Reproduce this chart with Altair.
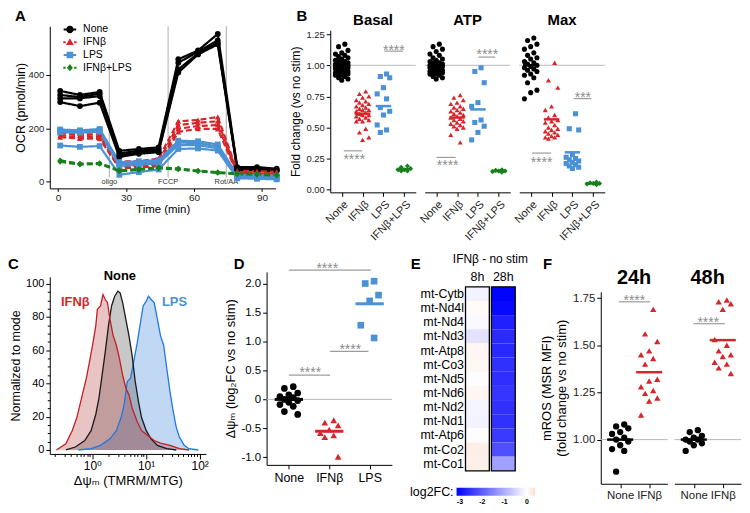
import altair as alt
import pandas as pd

FONT = "Liberation Sans, Arial, DejaVu Sans, sans-serif"

GROUPS = ["None", "IFNβ", "LPS", "IFNβ+LPS"]
COLORS = ["#000000", "#d7262b", "#4a92d5", "#17801a"]
SHAPES = ["circle", "triangle-up", "square", "diamond"]
LEG_PATHS = [
    "M-1.7,-0.28H1.7V0.28H-1.7Z M-1,0A1,1 0 1,1 1,0A1,1 0 1,1 -1,0Z",
    "M-1.8,-0.28H-1.15V0.28H-1.8Z M1.15,-0.28H1.8V0.28H1.15Z M0,-1.1L1.05,0.75L-1.05,0.75Z",
    "M-1.7,-0.28H1.7V0.28H-1.7Z M-0.9,-0.9H0.9V0.9H-0.9Z",
    "M-1.8,-0.28H-1.15V0.28H-1.8Z M1.15,-0.28H1.8V0.28H1.15Z M0,-1L0.8,0L0,1L-0.8,0Z",
]
STAR = "#8c8c8c"
SIGLINE = "#9c9c9c"
REFLINE = "#b8b8b8"

# ---------------- Panel A : OCR time course ----------------
times = [1.0, 9.7, 18.4, 27.1, 35.7, 44.4, 53.1, 61.8, 70.5, 79.1, 87.8, 96.5]
ocr_none = [
    [340, 325, 336, 115, 122, 128, 459, 492, 554, 54, 54, 48],
    [325, 317, 330, 105, 116, 122, 446, 487, 530, 50, 49, 44],
    [312, 312, 321, 98, 110, 116, 421, 481, 521, 46, 45, 41],
    [298, 283, 296, 92, 104, 110, 409, 477, 515, 44, 41, 39],
]
ocr_ifn = [
    [190, 180, 186, 75, 76, 86, 226, 231, 242, 40, 38, 36],
    [182, 173, 177, 63, 66, 75, 212, 220, 226, 35, 34, 32],
    [173, 166, 168, 55, 58, 65, 198, 208, 212, 32, 30, 29],
    [166, 161, 160, 50, 52, 58, 186, 198, 197, 28, 27, 26],
]
ocr_lps = [
    [195, 192, 197, 72, 76, 80, 153, 151, 139, 25, 22, 20],
    [190, 188, 193, 66, 70, 75, 146, 144, 132, 20, 18, 15],
    [185, 183, 187, 58, 63, 68, 137, 136, 125, 15, 14, 12],
    [135, 130, 133, 25, 35, 45, 122, 124, 116, 12, 10, 8],
]
ocr_combo = [
    [79, 67, 69, 42, 47, 53, 49, 41, 35, 30, 28, 25],
    [74, 63, 66, 38, 43, 49, 45, 38, 32, 27, 25, 22],
]
inj_names = ["oligo", "FCCP", "Rot/AA"]
inj_times = [22.7, 48.6, 74.3]
inj_bottom = [15, 15, 15]
inj_top = [420, 583, 583]
inj_label_y = [-2, -2, -2]

# ---------------- Panel B : fold change ----------------
metrics = ["Basal", "ATP", "Max"]
basal_none = [1.17, 1.15, 1.12, 1.10, 1.09, 1.08, 1.07, 1.06, 1.05, 1.04, 1.03, 1.03, 1.02, 1.02,
              1.01, 1.01, 1.00, 1.00, 1.00, 0.99, 0.99, 0.98, 0.98, 0.97, 0.97, 0.96, 0.96, 0.95,
              0.95, 0.94, 0.94, 0.93, 0.93, 0.92, 0.92, 0.91, 0.90, 0.89, 0.88]
basal_ifn = [0.79, 0.77, 0.75, 0.74, 0.72, 0.71, 0.70, 0.69, 0.68, 0.67, 0.66, 0.65, 0.64, 0.64,
             0.63, 0.62, 0.61, 0.60, 0.60, 0.59, 0.58, 0.57, 0.56, 0.55, 0.55, 0.49, 0.46, 0.42, 0.40]
basal_lps = [0.93, 0.91, 0.90, 0.82, 0.77, 0.73, 0.66, 0.63, 0.60, 0.52, 0.48, 0.46]
basal_combo = [0.19, 0.18, 0.17, 0.16, 0.16, 0.15, 0.15]
atp_none = [1.17, 1.15, 1.13, 1.11, 1.09, 1.08, 1.06, 1.05, 1.04, 1.03, 1.02, 1.02, 1.01, 1.01,
            1.00, 1.00, 0.99, 0.99, 0.98, 0.98, 0.97, 0.97, 0.96, 0.96, 0.95, 0.95, 0.94, 0.94,
            0.93, 0.93, 0.92, 0.91, 0.90, 0.89]
atp_ifn = [0.76, 0.74, 0.72, 0.70, 0.69, 0.67, 0.66, 0.65, 0.64, 0.63, 0.62, 0.61, 0.60, 0.59,
           0.58, 0.57, 0.56, 0.55, 0.54, 0.53, 0.52, 0.51, 0.50, 0.49, 0.44, 0.38]
atp_lps = [0.98, 0.95, 0.86, 0.70, 0.67, 0.56, 0.54, 0.51, 0.46, 0.40]
atp_combo = [0.16, 0.155, 0.15, 0.15, 0.145, 0.14]
max_none = [1.22, 1.20, 1.17, 1.15, 1.13, 1.10, 1.08, 1.06, 1.05, 1.03, 1.02, 1.01, 1.00, 0.99,
            0.98, 0.97, 0.96, 0.95, 0.93, 0.92, 0.90, 0.86, 0.80, 0.78, 0.73]
max_ifn = [1.02, 0.88, 0.82, 0.67, 0.64, 0.60, 0.58, 0.56, 0.55, 0.54, 0.52, 0.50, 0.49, 0.48,
           0.47, 0.46, 0.45, 0.44, 0.43, 0.42, 0.42, 0.41]
max_lps = [0.61, 0.49, 0.48, 0.28, 0.26, 0.25, 0.24, 0.23, 0.22, 0.21, 0.20, 0.19, 0.18, 0.17]
max_combo = [0.06, 0.055, 0.05, 0.05, 0.045, 0.04]
means_basal = [1.00, 0.61, 0.672, 0.165]
means_atp = [1.00, 0.58, 0.645, 0.15]
means_max = [1.00, 0.565, 0.30, 0.05]
sigB_metric = ["Basal", "Basal", "ATP", "ATP", "Max", "Max"]
sigB_x1 = [0.10, 2.04, 0.02, 2.02, 0.07, 2.06]
sigB_x2 = [0.98, 2.94, 0.93, 2.83, 0.98, 2.91]
sigB_y = [0.312, 1.114, 0.259, 1.066, 0.294, 0.732]
sigB_tx = [0.60, 2.50, 0.55, 2.45, 0.52, 2.50]
sigB_ty = [0.27, 1.148, 0.219, 1.114, 0.246, 0.772]
sigB_lab = ["****", "****", "****", "****", "****", "***"]

# ---------------- Panel C : TMRM/MTG histograms ----------------
c_ifn_x = [0.214, 0.321, 0.421, 0.515, 0.590, 0.675, 0.773, 0.885, 1.01, 1.16, 1.24, 1.42, 1.58,
           1.74, 1.92, 2.13, 2.44, 2.80, 3.20, 3.67, 4.20, 4.81, 5.50, 6.74, 8.26, 10.8, 14.2,
           18.6, 27.9, 42.0, 63.0]
c_ifn_y = [0, 3.7, 11.6, 19.5, 27.4, 35.3, 43.2, 53, 63, 74.8, 84.6, 86.6, 93.5, 90.5, 88.6, 78.7,
           68.8, 63, 55, 45, 37.3, 33.3, 25.4, 17.6, 11.6, 8.7, 5.7, 4.1, 2.8, 0.8, 0]
c_none_x = [0.321, 0.482, 0.723, 0.947, 1.16, 1.33, 1.52, 1.74, 2.00, 2.28, 2.61, 2.99, 3.29, 3.67,
            4.20, 4.81, 5.50, 6.30, 7.21, 8.26, 10.1, 12.4, 16.3, 24.4, 36.6]
c_none_y = [0, 1.8, 5.7, 11.6, 21.5, 31.4, 45, 59, 74.8, 86.6, 92.5, 95.5, 94.5, 88.6, 78.7, 68.8,
            57, 41.2, 29.4, 19.5, 11.6, 6.7, 2.8, 0.8, 0]
c_lps_x = [0.551, 0.947, 1.42, 2.13, 2.80, 3.43, 3.92, 4.49, 5.14, 5.89, 6.74, 7.72, 8.84, 10.1,
           11.1, 12.4, 14.2, 16.3, 18.6, 21.3, 24.4, 27.9, 32.0, 36.6, 42.0, 51.4, 63.0, 94.5]
c_lps_y = [0, 0.8, 2.8, 6.7, 11.6, 19.5, 27.4, 41.2, 43.2, 53, 63, 74.8, 86.6, 89.5, 92.5, 90.5,
           88.6, 78.7, 68.8, 63, 49, 35.3, 23.5, 13.6, 7.7, 2.8, 0.8, 0]
c_lab_text = ["None", "IFNβ", "LPS"]
c_lab_x = [3.25, 0.48, 34.0]
c_lab_y = [104.5, 89.0, 89.0]
c_minor_x = [0.2, 0.3, 0.4, 0.5, 0.6, 0.7, 0.8, 0.9, 2, 3, 4, 5, 6, 7, 8, 9,
             20, 30, 40, 50, 60, 70, 80, 90]
c_minor_y = [5, 10, 15, 25, 30, 35, 45, 50, 55, 65, 70, 75, 85, 90, 95]

# ---------------- Panel D : membrane potential ----------------
d_none = [0.22, 0.19, 0.11, 0.08, 0.05, 0.03, 0.0, -0.02, -0.05, -0.09, -0.12, -0.21, -0.26]
d_ifn = [-0.36, -0.40, -0.45, -0.52, -0.58, -0.62, -0.65, -0.99]
d_lps = [2.04, 2.00, 1.80, 1.70, 1.28, 1.06]
d_means = [0.0, -0.55, 1.65]
sigD_x1 = [0.0, 1.02, 0.0]
sigD_x2 = [2.03, 1.97, 1.02]
sigD_y = [2.23, 0.83, 0.42]
sigD_tx = [0.95, 1.52, 0.53]
sigD_ty = [2.32, 0.92, 0.52]

# ---------------- Panel E : heatmap ----------------
genes = ["mt-Cytb", "mt-Nd4l", "mt-Nd4", "mt-Nd3", "mt-Atp8", "mt-Co3", "mt-Nd5", "mt-Nd6",
         "mt-Nd2", "mt-Nd1", "mt-Atp6", "mt-Co2", "mt-Co1"]
fc_8h = [-0.15, 0.05, -0.08, -0.35, 0.10, 0.08, -0.02, 0.10, -0.12, -0.15, -0.03, 0.20, 0.18]
fc_28h = [-3.12, -3.05, -2.76, -2.62, -2.66, -2.55, -2.58, -2.50, -2.55, -2.55, -2.43, -2.17, -1.17]

# ---------------- Panel F : mROS ----------------
f_times = ["24h", "48h"]
f_none_24 = [1.08, 1.07, 1.06, 1.04, 1.03, 1.01, 1.00, 0.99, 0.97, 0.95, 0.94, 0.83]
f_ifn_24 = [1.69, 1.56, 1.52, 1.47, 1.45, 1.43, 1.40, 1.32, 1.31, 1.28, 1.26, 1.245, 1.22, 1.205, 1.13]
f_none_48 = [1.05, 1.04, 1.02, 1.01, 1.00, 1.00, 0.99, 0.98, 0.97, 0.94]
f_ifn_48 = [1.74, 1.73, 1.72, 1.69, 1.53, 1.50, 1.47, 1.45, 1.44, 1.41, 1.40, 1.38, 1.35]
f_means_24 = [1.0, 1.357]
f_means_48 = [1.0, 1.527]
sigF_x1 = [-0.04, -0.01]
sigF_x2 = [1.03, 1.07]
sigF_y = [1.73, 1.614]
sigF_tx = [0.49, 0.50]
sigF_ty = [1.755, 1.64]


def jitter(amp):
    return f"datum.xi + ((((datum.rk * 3) % 5) - 2) / 2) * {amp}"


def text_at(txt, x, y, size=15, weight="bold", align="left", baseline="top", color="black"):
    return alt.Chart(pd.DataFrame({"t": [txt]})).mark_text(
        fontSize=size, fontWeight=weight, align=align, baseline=baseline, color=color, font=FONT
    ).encode(text="t:N", x=alt.value(x), y=alt.value(y))


def letter(txt, x, y):
    return text_at(txt, x, y)


def gcolor(dom, rng):
    return alt.Color("group:N", scale=alt.Scale(domain=dom, range=rng), legend=None)


def gshape(dom, rng):
    return alt.Shape("group:N", scale=alt.Scale(domain=dom, range=rng), legend=None)


# ======================= A =======================
recA = []
for g, reps in zip(GROUPS, [ocr_none, ocr_ifn, ocr_lps, ocr_combo]):
    for r, vals in enumerate(reps):
        for t, v in zip(times, vals):
            recA.append({"group": g, "rep": f"{g}_{r}", "time": t, "ocr": v})
dfA = pd.DataFrame(recA)
dfInj = pd.DataFrame({"time": inj_times, "ocr": inj_bottom, "top": inj_top, "name": inj_names})
dfInjLab = pd.DataFrame({"time": inj_times, "ocr": inj_label_y, "name": inj_names})

xA_scale = alt.Scale(domain=[-3.6, 96], nice=False, zero=False)
yA_scale = alt.Scale(domain=[-26, 583], range=[180, 17], nice=False, zero=False)
xA_axis = alt.Axis(values=[0, 30, 60, 90], title="Time (min)", titleFontSize=11.5, labelFontSize=10,
                   labelPadding=1, titlePadding=1, tickSize=3, labelFlush=False)
yA_axis = alt.Axis(values=[0, 200, 400], title="OCR (pmol/min)", titleFontSize=12.5, labelFontSize=9.5,
                   labelPadding=2, titlePadding=1, tickSize=4)
xA = alt.X("time:Q", scale=xA_scale, axis=xA_axis)
yA = alt.Y("ocr:Q", scale=yA_scale, axis=yA_axis)

injA = alt.Chart(dfInj).mark_rule(color="#bdbdbd", strokeWidth=1.3).encode(x=xA, y=yA, y2="top:Q")
injTxt = alt.Chart(dfInjLab).mark_text(fontSize=7.5, color="#333333", baseline="middle", font=FONT).encode(
    x=xA, y=yA, text="name:N")
linesA = alt.Chart(dfA).mark_line(strokeWidth=2.2).encode(
    x=xA, y=yA, detail="rep:N", color=gcolor(GROUPS, COLORS),
    strokeDash=alt.StrokeDash("group:N", scale=alt.Scale(domain=GROUPS, range=[[1, 0], [6, 3], [1, 0], [6, 3]]),
                              legend=None))
ptsA = alt.Chart(dfA).mark_point(filled=True, opacity=1, size=34).encode(
    x=xA, y=yA, color=gcolor(GROUPS, COLORS), shape=gshape(GROUPS, SHAPES))
legprops = dict(title=None, orient="top-left", offset=15, symbolSize=55, labelFontSize=10.5,
                labelOffset=8, rowPadding=1.8, labelColor="black", labelFont=FONT, symbolStrokeWidth=0)
legA = alt.Chart(pd.DataFrame({"group": GROUPS})).transform_filter("false").mark_point(
    filled=True, opacity=1).encode(
    color=alt.Color("group:N", scale=alt.Scale(domain=GROUPS, range=COLORS), legend=alt.Legend(**legprops)),
    shape=alt.Shape("group:N", scale=alt.Scale(domain=GROUPS, range=LEG_PATHS), legend=alt.Legend(**legprops)))
chartA = alt.layer(injA, injTxt, linesA, ptsA, legA, letter("A", -35, 0)).resolve_scale(
    color="independent", shape="independent", strokeDash="independent").properties(width=227, height=180)

# ======================= B =======================
recB = []
for m, vals, means in zip(metrics,
                          [[basal_none, basal_ifn, basal_lps, basal_combo],
                           [atp_none, atp_ifn, atp_lps, atp_combo],
                           [max_none, max_ifn, max_lps, max_combo]],
                          [means_basal, means_atp, means_max]):
    for gi, g in enumerate(GROUPS):
        for v in vals[gi]:
            recB.append({"metric": m, "kind": "pt", "group": g, "xi": gi, "val": v})
        recB.append({"metric": m, "kind": "mean", "group": g, "xi": gi, "val": means[gi]})
for m, a, b, y, tx, ty, lab in zip(sigB_metric, sigB_x1, sigB_x2, sigB_y, sigB_tx, sigB_ty, sigB_lab):
    recB.append({"metric": m, "kind": "sig", "group": "None", "xi": a, "xi2": b, "val": y})
    recB.append({"metric": m, "kind": "sigtxt", "group": "None", "xi": tx, "val": ty, "label": lab})
dfB = pd.DataFrame(recB)

xB_scale = alt.Scale(domain=[-0.55, 3.55], nice=False, zero=False)
yB_scale = alt.Scale(domain=[-0.022, 1.282], range=[184, 21], nice=False, zero=False)
xB_axis = alt.Axis(values=[0, 1, 2, 3], labelExpr="['None','IFNβ','LPS','IFNβ+LPS'][datum.value]",
                   labelAngle=-45, labelAlign="right", labelBaseline="top", labelFontSize=11,
                   labelPadding=2, tickSize=4, title=None, labelOverlap=False, labelFlush=False)
yB_axis = alt.Axis(values=[0, 0.25, 0.5, 0.75, 1.0, 1.25], format=".2f", title="Fold change (vs no stim)",
                   titleFontSize=12, labelFontSize=9.5, tickSize=4, labelPadding=2, titlePadding=3)


def panelB(m, first):
    d = dfB[dfB["metric"] == m]
    yax = yB_axis if first else None

    def xB(f):
        return alt.X(f"{f}:Q", scale=xB_scale, axis=xB_axis)

    def yB(f):
        return alt.Y(f"{f}:Q", scale=yB_scale, axis=yax)

    base = alt.Chart(d)
    ref = base.transform_filter("datum.kind == 'mean' && datum.group == 'None'").mark_rule(
        color=REFLINE, strokeWidth=1).encode(y=yB("val"))
    pts = base.transform_filter("datum.kind == 'pt'").transform_window(
        rk="row_number()", groupby=["group"], sort=[alt.SortField("val", order="descending")]
    ).transform_calculate(xp=jitter(0.3)).mark_point(filled=True, opacity=1, size=26).encode(
        x=xB("xp"), y=yB("val"), color=gcolor(GROUPS, COLORS), shape=gshape(GROUPS, SHAPES))
    mean = base.transform_filter("datum.kind == 'mean'").transform_calculate(
        xp="datum.xi - 0.37", xp2="datum.xi + 0.37").mark_rule(strokeWidth=2.5).encode(
        x=xB("xp"), x2="xp2:Q", y=yB("val"), color=gcolor(GROUPS, COLORS))
    sigl = base.transform_filter("datum.kind == 'sig'").mark_rule(color=SIGLINE, strokeWidth=1.2).encode(
        x=xB("xi"), x2="xi2:Q", y=yB("val"))
    sigt = base.transform_filter("datum.kind == 'sigtxt'").mark_text(
        color=STAR, fontSize=14, dy=4, font=FONT).encode(x=xB("xi"), y=yB("val"), text="label:N")
    layers = [ref, pts, mean, sigl, sigt, text_at(m, 43, 4, size=15, align="center")]
    if first:
        layers.append(letter("B", -34, 0))
    return alt.layer(*layers).properties(width=86, height=184)


chartB = alt.hconcat(panelB("Basal", True), panelB("ATP", False), panelB("Max", False), spacing=0)

# ======================= C =======================
recC = []
for s, xs, ys in [("LPS", c_lps_x, c_lps_y), ("None", c_none_x, c_none_y), ("IFNβ", c_ifn_x, c_ifn_y)]:
    for xv, yv in zip(xs, ys):
        recC.append({"sample": s, "mfi": xv, "pct": yv})
dfC = pd.DataFrame(recC)
dfClab = pd.DataFrame({"lab": c_lab_text, "mfi": c_lab_x, "pct": c_lab_y})

xC_scale = alt.Scale(type="log", domain=[0.161, 130.7], nice=False)
yC_scale = alt.Scale(domain=[-2.37, 104.1], range=[201, 23], nice=False, zero=False)
xC_axis = alt.Axis(values=[1, 10, 100], orient="bottom",
                   labelExpr="datum.value == 1 ? '10⁰' : (datum.value == 10 ? '10¹' : '10²')",
                   title="Δψₘ (TMRM/MTG)", titleFontSize=13, labelFontSize=12, tickSize=5, labelPadding=2,
                   titlePadding=3, labelColor="black", labelFlush=False)
yC_axis = alt.Axis(values=[0, 20, 40, 60, 80, 100], orient="left", title="Normalized to mode",
                   titleFontSize=12.5, labelFontSize=11, tickSize=4, labelPadding=2, titlePadding=3,
                   labelColor="black")
xC = alt.X("mfi:Q", scale=xC_scale, axis=xC_axis)
yC = alt.Y("pct:Q", scale=yC_scale, axis=yC_axis, stack=None)
areaC = alt.Chart(dfC).mark_area(opacity=0.3).encode(
    x=xC, y=yC, fill=alt.Fill("sample:N", scale=alt.Scale(domain=["LPS", "None", "IFNβ"],
                                                          range=["#2d7dda", "#484848", "#b23a3a"]), legend=None))
lineC = alt.Chart(dfC).mark_line(strokeWidth=1.3).encode(
    x=xC, y=yC, stroke=alt.Stroke("sample:N", scale=alt.Scale(domain=["LPS", "None", "IFNβ"],
                                                              range=["#1f78e0", "#1a1a1a", "#c41e24"]),
                                  legend=None))
textC = alt.Chart(dfClab).mark_text(fontSize=13, fontWeight="bold", baseline="middle", font=FONT).encode(
    x=xC, y=yC, text="lab:N",
    color=alt.Color("lab:N", scale=alt.Scale(domain=["None", "IFNβ", "LPS"],
                                             range=["#000000", "#c0272d", "#3a8ee0"]), legend=None))
minorC = alt.Chart(pd.DataFrame({"mfi": [1.0], "pct": [0.0]})).mark_point(opacity=0).encode(
    x=alt.X("mfi:Q", scale=xC_scale, axis=alt.Axis(values=c_minor_x, orient="bottom", labels=False, tickSize=2.5,
                                                   domain=False, title=None)),
    y=alt.Y("pct:Q", scale=yC_scale, axis=alt.Axis(values=c_minor_y, orient="left", labels=False, tickSize=2.5,
                                                   domain=False, title=None)))
chartC = alt.layer(alt.layer(areaC, lineC, textC), minorC, letter("C", -42, 3)).resolve_axis(
    x="independent", y="independent").properties(width=157, height=201)

# ======================= D =======================
G3 = GROUPS[:3]
C3 = COLORS[:3]
S3 = SHAPES[:3]
recD = []
for gi, (g, vals) in enumerate(zip(G3, [d_none, d_ifn, d_lps])):
    for v in vals:
        recD.append({"group": g, "xi": gi, "val": v})
dfD = pd.DataFrame(recD)
dfDm = pd.DataFrame({"group": G3, "xi": [0, 1, 2], "val": d_means})
dfDs = pd.DataFrame({"xi": sigD_x1, "xi2": sigD_x2, "val": sigD_y})
dfDt = pd.DataFrame({"xi": sigD_tx, "val": sigD_ty, "label": ["****"] * 3})

xD_scale = alt.Scale(domain=[-0.55, 2.55], nice=False, zero=False)
yD_scale = alt.Scale(domain=[-1.13, 2.2], range=[212, 18], nice=False, zero=False)
xD_axis = alt.Axis(values=[0, 1, 2], labelExpr="['None','IFNβ','LPS'][datum.value]", title=None,
                   labelFontSize=12.5, tickSize=4, labelPadding=3, labelColor="black", labelFlush=False)
yD_axis = alt.Axis(values=[-1, -0.5, 0, 0.5, 1, 1.5, 2],
                   labelExpr="datum.value == 0 ? '0' : (datum.value < 0 ? '-' : '') + format(abs(datum.value), '.1f')",
                   title="Δψₘ (log₂FC vs no stim)", titleFontSize=13, labelFontSize=11.5, tickSize=4,
                   labelPadding=2, titlePadding=3, labelColor="black")


def xD(f):
    return alt.X(f"{f}:Q", scale=xD_scale, axis=xD_axis)


def yD(f):
    return alt.Y(f"{f}:Q", scale=yD_scale, axis=yD_axis)


refD = alt.Chart(pd.DataFrame({"val": [0.0]})).mark_rule(color=REFLINE, strokeWidth=1).encode(y=yD("val"))
ptsD = alt.Chart(dfD).transform_window(
    rk="row_number()", groupby=["group"], sort=[alt.SortField("val", order="descending")]
).transform_calculate(xp=jitter(0.22)).mark_point(filled=True, opacity=1, size=45).encode(
    x=xD("xp"), y=yD("val"), color=gcolor(G3, C3), shape=gshape(G3, S3))
meanD = alt.Chart(dfDm).transform_calculate(xp="datum.xi - 0.35", xp2="datum.xi + 0.35").mark_rule(
    strokeWidth=3).encode(x=xD("xp"), x2="xp2:Q", y=yD("val"), color=gcolor(G3, C3))
sigLD = alt.Chart(dfDs).mark_rule(color=SIGLINE, strokeWidth=1.2).encode(x=xD("xi"), x2="xi2:Q", y=yD("val"))
sigTD = alt.Chart(dfDt).mark_text(color=STAR, fontSize=14, dy=4, font=FONT).encode(
    x=xD("xi"), y=yD("val"), text="label:N")
chartD = alt.layer(refD, ptsD, meanD, sigLD, sigTD, letter("D", -33, 3)).properties(width=126, height=212)

# ======================= E =======================
dfE = pd.DataFrame([{"gene": g, "time": t, "fc": v}
                    for t, vals in [("8h", fc_8h), ("28h", fc_28h)] for g, v in zip(genes, vals)])
xE = alt.X("time:N", sort=["8h", "28h"], scale=alt.Scale(paddingInner=0.08, paddingOuter=0), axis=None)
yE = alt.Y("gene:N", sort=genes, scale=alt.Scale(range=[33, 218], paddingInner=0, paddingOuter=0),
           axis=alt.Axis(title=None, domain=False, ticks=False, labelFontSize=12.5, labelPadding=2,
                         labelColor="black"))
heatE = alt.Chart(dfE).mark_rect().encode(
    x=xE, y=yE,
    color=alt.Color("fc:Q", scale=alt.Scale(domain=[-3.15, 0, 0.37], range=["#0000ff", "#ffffff", "#fbe0d2"],
                                            interpolate="rgb"),
                    legend=alt.Legend(title=None, orient="none", legendX=-9, legendY=235,
                                      direction="horizontal", gradientLength=79, gradientThickness=8,
                                      labelFontSize=7, labelFontWeight="bold", labelColor="black",
                                      values=[-3, -2, -1, 0], labelOverlap=False, gradientStrokeWidth=0,
                                      labelOffset=2,
                                      labelExpr="datum.value < 0 ? '-' + abs(datum.value) : '' + datum.value")))
frameE = alt.Chart(pd.DataFrame({"time": ["8h", "28h"]})).mark_rect(
    fillOpacity=0, stroke="black", strokeWidth=1.3).encode(x=xE, y=alt.value(33), y2=alt.value(218))
colE = alt.Chart(pd.DataFrame({"time": ["8h", "28h"]})).mark_text(
    fontSize=12.5, baseline="middle", color="black", font=FONT).encode(x=xE, y=alt.value(23), text="time:N")
chartE = alt.layer(
    heatE, frameE, colE,
    text_at("IFNβ - no stim", 25, 0, size=12, weight="normal", align="center"),
    text_at("log2FC:", -12, 239, size=12.5, weight="normal", align="right", baseline="middle"),
    letter("E", -55, 3)).properties(width=50, height=218)

# ======================= F =======================
recF = []
for tp, nvals, ivals, means in [("24h", f_none_24, f_ifn_24, f_means_24), ("48h", f_none_48, f_ifn_48, f_means_48)]:
    for gi, (g, vals) in enumerate(zip(["None", "IFNβ"], [nvals, ivals])):
        for v in vals:
            recF.append({"tp": tp, "kind": "pt", "group": g, "xi": gi, "val": v})
        recF.append({"tp": tp, "kind": "mean", "group": g, "xi": gi, "val": means[gi]})
for tp, a, b, y, tx, ty in zip(f_times, sigF_x1, sigF_x2, sigF_y, sigF_tx, sigF_ty):
    recF.append({"tp": tp, "kind": "sig", "group": "None", "xi": a, "xi2": b, "val": y})
    recF.append({"tp": tp, "kind": "sigtxt", "group": "None", "xi": tx, "val": ty, "label": "****"})
dfF = pd.DataFrame(recF)

G2 = GROUPS[:2]
C2 = COLORS[:2]
S2 = SHAPES[:2]
xF_scale = alt.Scale(domain=[-0.67, 1.63], nice=False, zero=False)
yF_scale = alt.Scale(domain=[0.766, 1.783], range=[231, 38], nice=False, zero=False)
xF_axis = alt.Axis(values=[0, 1], labelExpr="['None','IFNβ'][datum.value]", title=None, labelFontSize=11.5,
                   tickSize=4, labelPadding=2, labelFlush=False, labelOverlap=False)
yF_axis = alt.Axis(values=[1.0, 1.25, 1.5, 1.75], format=".2f", title=["mROS (MSR MFI)", "(fold change vs no stim)"],
                   titleFontSize=13, titleLineHeight=15, labelFontSize=11.5, tickSize=4, labelPadding=2,
                   titlePadding=4)


def panelF(tp, first):
    d = dfF[dfF["tp"] == tp]
    yax = yF_axis if first else None

    def xF(f):
        return alt.X(f"{f}:Q", scale=xF_scale, axis=xF_axis)

    def yF(f):
        return alt.Y(f"{f}:Q", scale=yF_scale, axis=yax)

    base = alt.Chart(d)
    ref = base.transform_filter("datum.kind == 'mean' && datum.group == 'None'").mark_rule(
        color=REFLINE, strokeWidth=1).encode(y=yF("val"))
    pts = base.transform_filter("datum.kind == 'pt'").transform_window(
        rk="row_number()", groupby=["group"], sort=[alt.SortField("val", order="descending")]
    ).transform_calculate(xp=jitter(0.28)).mark_point(filled=True, opacity=1, size=40).encode(
        x=xF("xp"), y=yF("val"), color=gcolor(G2, C2), shape=gshape(G2, S2))
    mean = base.transform_filter("datum.kind == 'mean'").transform_calculate(
        xp="datum.xi - 0.45", xp2="datum.xi + 0.45").mark_rule(strokeWidth=2.5).encode(
        x=xF("xp"), x2="xp2:Q", y=yF("val"), color=gcolor(G2, C2))
    sigl = base.transform_filter("datum.kind == 'sig'").mark_rule(color=SIGLINE, strokeWidth=1.2).encode(
        x=xF("xi"), x2="xi2:Q", y=yF("val"))
    sigt = base.transform_filter("datum.kind == 'sigtxt'").mark_text(
        color=STAR, fontSize=14, dy=4, font=FONT).encode(x=xF("xi"), y=yF("val"), text="label:N")
    layers = [ref, pts, mean, sigl, sigt, text_at(tp, 33.5, 14, size=20, align="center")]
    if first:
        layers.append(letter("F", -58, 3))
    return alt.layer(*layers).properties(width=67, height=231)


chartF = alt.hconcat(panelF("24h", True), panelF("48h", False), spacing=5)

# ======================= assemble =======================
row1 = alt.hconcat(chartA, chartB, spacing=8)
row2 = alt.hconcat(alt.hconcat(chartC, chartD, spacing=16), alt.hconcat(chartE, chartF, spacing=5), spacing=17)
chart = alt.vconcat(row1, row2, spacing=10).properties(
    padding={"left": 0, "top": 0, "right": 0, "bottom": 0}
).configure_view(strokeWidth=0).configure_axis(
    grid=False, domainColor="black", tickColor="black", labelColor="#222222", titleColor="black",
    labelFont=FONT, titleFont=FONT, titleFontWeight="normal", domainWidth=1, tickWidth=1
).configure_text(font=FONT).configure_legend(labelFont=FONT, titleFont=FONT).configure_title(
    font=FONT, color="black")

chart.save("out.html", embed_options={"renderer": "svg", "actions": False})
